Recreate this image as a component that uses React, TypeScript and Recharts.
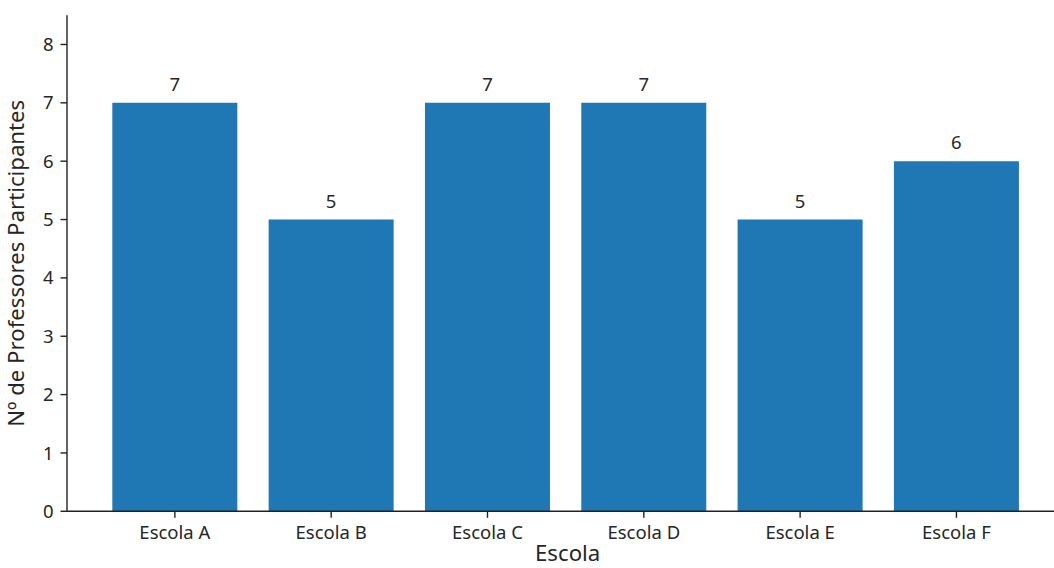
import React from 'react';
import { BarChart, Bar, XAxis, YAxis, LabelList } from 'recharts';

const schools = ['Escola A', 'Escola B', 'Escola C', 'Escola D', 'Escola E', 'Escola F'];
const teachers = [7, 5, 7, 7, 5, 6];
const yTicks = [0, 1, 2, 3, 4, 5, 6, 7, 8];

const data = schools.map((s, i) => ({ escola: s, professores: teachers[i] }));

const FONT = '"Noto Sans", sans-serif';
const TEXT = '#262626';
const AXIS = '#222222';

const W = 1070;
const H = 600;

export default function App() {
  return (
    <div style={{ position: 'absolute', left: 0, top: 0, width: 1054, height: 568, overflow: 'hidden', background: '#fff' }}>
      <BarChart
        width={W}
        height={H}
        data={data}
        margin={{ top: 15.3, right: W - 1064.3, left: 0, bottom: H - 511.3 - 60 }}
        barCategoryGap="10%"
      >
        <XAxis
          dataKey="escola"
          height={60}
          padding={{ left: 29.7, right: 29.7 }}
          tickSize={6.5}
          tickMargin={8}
          axisLine={{ stroke: AXIS, strokeWidth: 1.4 }}
          tickLine={{ stroke: AXIS, strokeWidth: 1.4 }}
          tick={{ fill: TEXT, fontSize: 18.5, fontFamily: FONT }}
          label={{
            content: (props: any) => {
              const vb = props.viewBox;
              return (
                <text x={vb.x + vb.width / 2 + 2} y={vb.y + 50} textAnchor="middle" fill={TEXT} fontSize={22.2} fontFamily={FONT}>
                  Escola
                </text>
              );
            },
          }}
        />
        <YAxis
          width={67}
          domain={[0, 8.5]}
          ticks={yTicks}
          allowDataOverflow
          tickSize={6.5}
          tickMargin={7}
          axisLine={{ stroke: AXIS, strokeWidth: 1.4 }}
          tickLine={{ stroke: AXIS, strokeWidth: 1.4 }}
          tick={{ fill: TEXT, fontSize: 18.5, fontFamily: FONT }}
          label={{
            content: (props: any) => {
              const vb = props.viewBox;
              const cy = vb.y + vb.height / 2;
              return (
                <text x={24} y={cy} transform={`rotate(-90, 24, ${cy})`} textAnchor="middle" fill={TEXT} fontSize={22.2} fontFamily={FONT}>
                  Nº de Professores Participantes
                </text>
              );
            },
          }}
        />
        <Bar dataKey="professores" fill="#1f77b4" isAnimationActive={false}>
          <LabelList dataKey="professores" position="top" offset={12} fill={TEXT} fontSize={18.5} fontFamily={FONT} />
        </Bar>
      </BarChart>
    </div>
  );
}
